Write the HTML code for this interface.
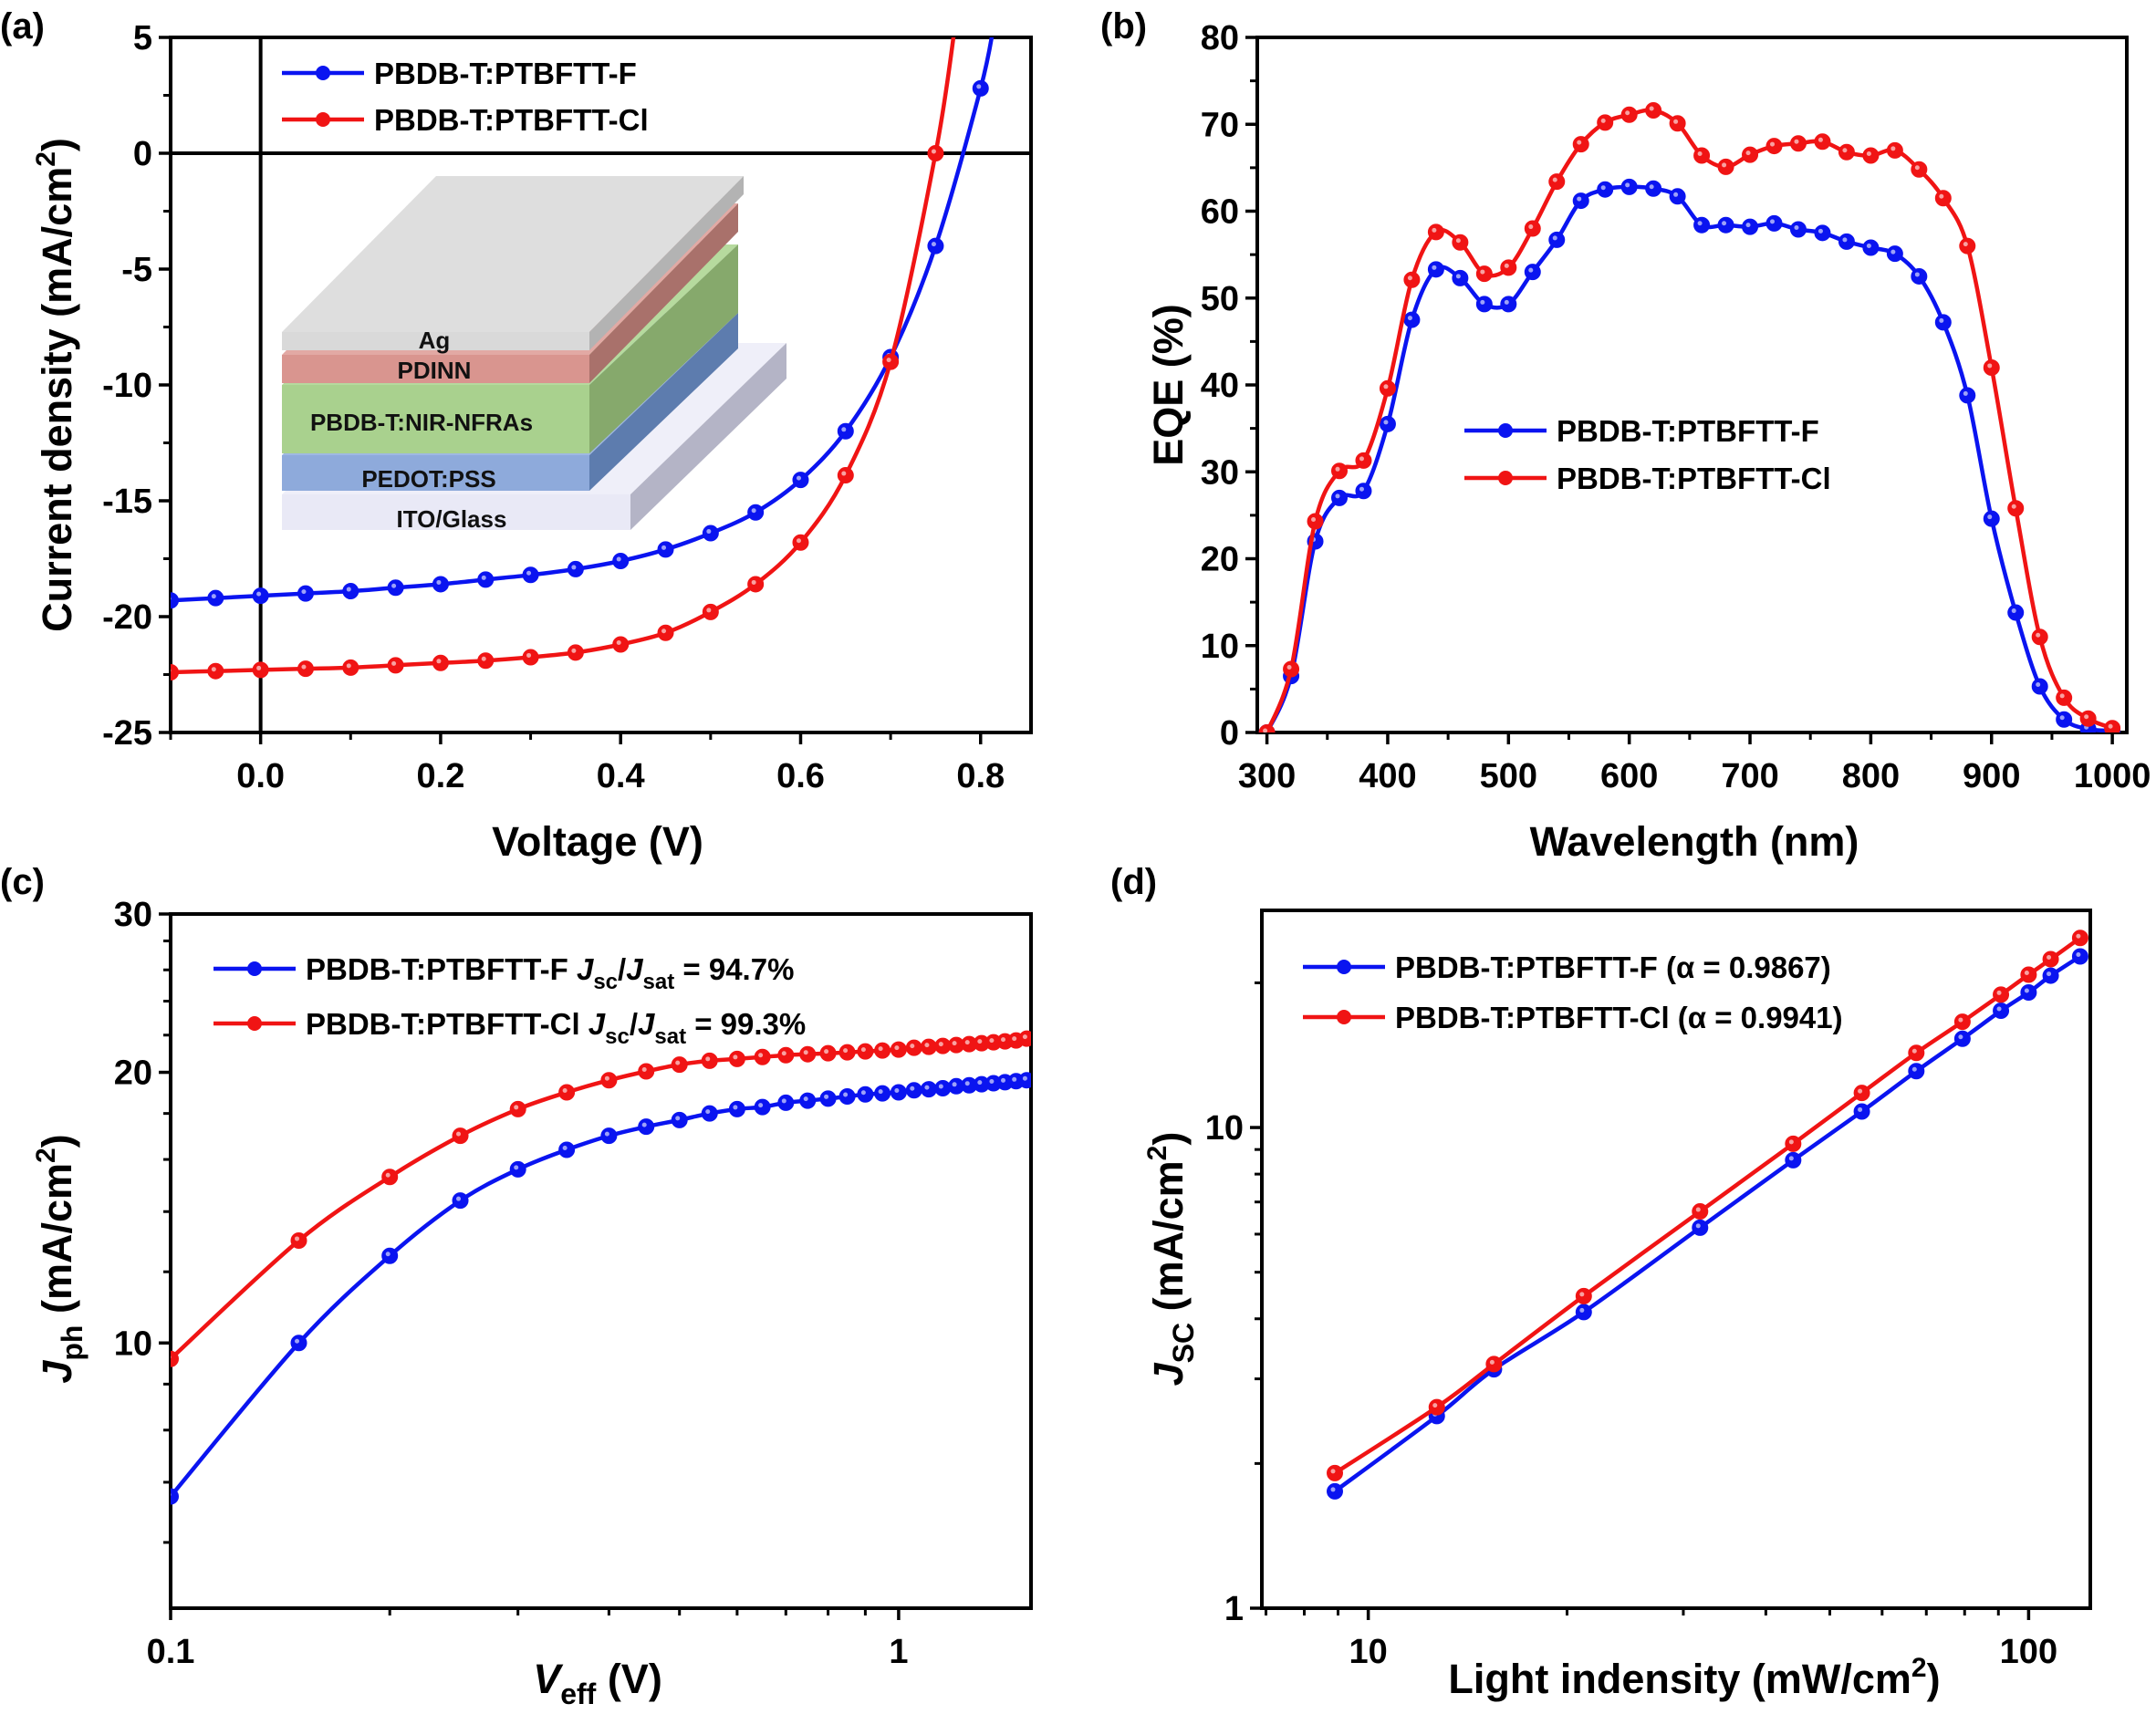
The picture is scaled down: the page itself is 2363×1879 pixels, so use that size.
<!DOCTYPE html>
<html><head><meta charset="utf-8"><style>
html,body{margin:0;padding:0;background:#fff}
svg{display:block;font-family:"Liberation Sans",Arial,sans-serif;font-weight:bold}
</style></head><body>
<svg id="fig" width="2363" height="1879" viewBox="0 0 2363 1879" xmlns="http://www.w3.org/2000/svg">
<g id="inset"></g>
</svg>
<script>
// ---- Panel (a) J-V data ----
const jvVoltage = [-0.1,-0.05,0,0.05,0.1,0.15,0.2,0.25,0.3,0.35,0.4,0.45,0.5,0.55,0.6,0.65,0.7,0.75,0.8,0.815];
const jvF = [-19.3,-19.2,-19.1,-19.0,-18.9,-18.75,-18.6,-18.4,-18.2,-17.95,-17.6,-17.1,-16.4,-15.5,-14.1,-12.0,-8.8,-4.0,2.8,5.6];
const jvVoltageCl = [-0.1,-0.05,0,0.05,0.1,0.15,0.2,0.25,0.3,0.35,0.4,0.45,0.5,0.55,0.6,0.65,0.7,0.75,0.772];
const jvCl = [-22.4,-22.35,-22.3,-22.25,-22.2,-22.1,-22.0,-21.9,-21.75,-21.55,-21.2,-20.7,-19.8,-18.6,-16.8,-13.9,-9.0,0.0,5.6];
// ---- Panel (b) EQE data ----
const eqeWavelength = [300,320,340,360,380,400,420,440,460,480,500,520,540,560,580,600,620,640,660,680,700,720,740,760,780,800,820,840,860,880,900,920,940,960,980,1000];
const eqeF = [0,6.5,22,27,27.8,35.5,47.5,53.3,52.3,49.3,49.3,53,56.7,61.2,62.5,62.8,62.6,61.7,58.4,58.4,58.2,58.6,57.9,57.5,56.5,55.8,55.1,52.5,47.2,38.8,24.6,13.8,5.3,1.5,0.4,0.2];
const eqeCl = [0,7.3,24.3,30.1,31.3,39.6,52.1,57.6,56.4,52.8,53.5,58,63.4,67.7,70.2,71.1,71.6,70.1,66.4,65.1,66.5,67.5,67.8,68,66.8,66.4,67,64.8,61.5,56,42,25.8,11,4,1.6,0.5];
// ---- Panel (c) Jph vs Veff ----
const veff = [0.1,0.15,0.2,0.25,0.3,0.35,0.4,0.45,0.5,0.55,0.6,0.65,0.7,0.75,0.8,0.85,0.9,0.95,1.0,1.05,1.1,1.15,1.2,1.25,1.3,1.35,1.4,1.45,1.5];
const jphF = [6.75,10.0,12.5,14.4,15.6,16.4,17.0,17.4,17.7,18.0,18.2,18.3,18.5,18.6,18.7,18.8,18.9,18.95,19.0,19.1,19.15,19.2,19.3,19.35,19.4,19.45,19.5,19.55,19.6];
const jphCl = [9.6,13.0,15.3,17.0,18.2,19.0,19.6,20.05,20.4,20.6,20.7,20.8,20.9,20.95,21.0,21.05,21.1,21.15,21.2,21.3,21.35,21.4,21.45,21.5,21.55,21.6,21.65,21.7,21.8];
// ---- Panel (d) Jsc vs light intensity ----
const lightIntensity = [8.9,12.7,15.5,21.2,31.8,44,55.9,67.6,79.4,90.8,100,108,119.7];
const jscF = [1.75,2.51,3.14,4.13,6.19,8.55,10.8,13.1,15.3,17.5,19.1,20.7,22.7];
const jscCl = [1.91,2.62,3.22,4.46,6.69,9.25,11.8,14.3,16.6,18.9,20.8,22.4,24.8];

const NS="http://www.w3.org/2000/svg";
const svg=document.getElementById('fig');
function mk(tag,attrs,parent){const e=document.createElementNS(NS,tag);for(const k in attrs)e.setAttribute(k,attrs[k]);(parent||svg).appendChild(e);return e;}
function txt(s,attrs,parent){const t=mk('text',attrs,parent);t.textContent=s;return t;}

function makeAxes(P){
  P.sx=v=>{const a=P.xlog?Math.log10(v):v,lo=P.xlog?Math.log10(P.x0):P.x0,hi=P.xlog?Math.log10(P.x1):P.x1;return P.L+(a-lo)/(hi-lo)*(P.R-P.L);};
  P.sy=v=>{const a=P.ylog?Math.log10(v):v,lo=P.ylog?Math.log10(P.y0):P.y0,hi=P.ylog?Math.log10(P.y1):P.y1;return P.B-(a-lo)/(hi-lo)*(P.B-P.T);};
  return P;
}
function drawFrame(P,g){
  const fr=mk('rect',{x:P.L,y:P.T,width:P.R-P.L,height:P.B-P.T,fill:'none',stroke:'#000','stroke-width':4},g);
  
  
  const xt=mk('g',{},g);
  
  
  P.xMajor.forEach((v,i)=>{const x=P.sx(v);mk('line',{x1:x,x2:x,y1:P.B,y2:P.B+13,stroke:'#000','stroke-width':3.5},xt);
    txt(P.xLabels[i],{x:x,y:P.B+60,'text-anchor':'middle','font-size':38},xt);});
  P.xMinor.forEach(v=>{const x=P.sx(v);mk('line',{x1:x,x2:x,y1:P.B,y2:P.B+8,stroke:'#000','stroke-width':3},xt);});
  const yt=mk('g',{},g);
  
  
  P.yMajor.forEach((v,i)=>{const y=P.sy(v);mk('line',{x1:P.L,x2:P.L-13,y1:y,y2:y,stroke:'#000','stroke-width':3.5},yt);
    txt(P.yLabels[i],{x:P.L-20,y:y+13,'text-anchor':'end','font-size':38},yt);});
  P.yMinor.forEach(v=>{const y=P.sy(v);mk('line',{x1:P.L,x2:P.L-8,y1:y,y2:y,stroke:'#000','stroke-width':3},yt);});
}
function smoothPath(pts){
  let d='M'+pts[0][0].toFixed(1)+','+pts[0][1].toFixed(1);
  for(let i=0;i<pts.length-1;i++){
    const p0=pts[Math.max(i-1,0)],p1=pts[i],p2=pts[i+1],p3=pts[Math.min(i+2,pts.length-1)];
    const c1=[p1[0]+(p2[0]-p0[0])/6,p1[1]+(p2[1]-p0[1])/6],c2=[p2[0]-(p3[0]-p1[0])/6,p2[1]-(p3[1]-p1[1])/6];
    d+=' C'+c1.map(n=>n.toFixed(1))+' '+c2.map(n=>n.toFixed(1))+' '+p2[0].toFixed(1)+','+p2[1].toFixed(1);
  }
  return d;
}
function drawSeries(P,g,xs,ys,color,name,r){
  const clipId='clip-'+P.name;
  const sg=mk('g',{'clip-path':'url(#'+clipId+')'},g);
  
  
  const pts=xs.map((x,i)=>[P.sx(x),P.sy(ys[i])]);
  mk('path',{d:smoothPath(pts),fill:'none',stroke:color,'stroke-width':4.5},sg);
  xs.forEach((x,i)=>{
    const yv=ys[i]; if(yv>P.y1||yv<P.y0) return;
    const c=mk('circle',{cx:P.sx(x),cy:P.sy(yv),r:r||8,fill:color,stroke:color,'stroke-width':2},sg);
    
    
    mk('circle',{cx:P.sx(x)-2,cy:P.sy(yv)-2,r:2.5,fill:'#fff','fill-opacity':0.6},sg);
  });
}
function clip(P){
  let defs=svg.querySelector('defs')||mk('defs',{});
  const cp=mk('clipPath',{id:'clip-'+P.name},defs);
  mk('rect',{x:P.L,y:P.T,width:P.R-P.L,height:P.B-P.T},cp);
}
function legendEntry(g,x,y,color,label,name){
  const e=mk('g',{},g);
  
  
  mk('line',{x1:x,x2:x+90,y1:y,y2:y,stroke:color,'stroke-width':4.5},e);
  mk('circle',{cx:x+45,cy:y,r:8,fill:color},e);
  return txt('',{x:x+101,y:y+12,'font-size':33,fill:'#000'},e);
}
function addSpans(t,parts){
  parts.forEach(p=>{const s=mk('tspan',p.a||{},t);s.textContent=p.s;});
}
function panelLabel(s,x,y){const t=txt(s,{x:x,y:y,'font-size':40});}

// ---------- Panel A ----------
const A=makeAxes({name:'panel-a',L:187,R:1130,T:41,B:803,x0:-0.1,x1:0.856,y0:-25,y1:5,
 xMajor:[0,0.2,0.4,0.6,0.8],xLabels:['0.0','0.2','0.4','0.6','0.8'],xMinor:[-0.1,0.1,0.3,0.5,0.7],
 yMajor:[-25,-20,-15,-10,-5,0,5],yLabels:['-25','-20','-15','-10','-5','0','5'],yMinor:[-22.5,-17.5,-12.5,-7.5,-2.5,2.5]});
const gA=mk('g',{});
clip(A);
svg.appendChild(document.getElementById('inset'));
mk('line',{x1:A.sx(0),x2:A.sx(0),y1:A.T,y2:A.B,stroke:'#000','stroke-width':4},gA);
mk('line',{x1:A.L,x2:A.R,y1:A.sy(0),y2:A.sy(0),stroke:'#000','stroke-width':4},gA);
drawFrame(A,gA);
drawSeries(A,gA,jvVoltage,jvF,'#0a14f0','series-f-jv');
drawSeries(A,gA,jvVoltageCl,jvCl,'#f01414','series-cl-jv');
addSpans(legendEntry(gA,309,80,'#0a14f0','', 'legend-entry-f'),[{s:'PBDB-T:PTBFTT-F'}]);
addSpans(legendEntry(gA,309,131,'#f01414','', 'legend-entry-cl'),[{s:'PBDB-T:PTBFTT-Cl'}]);
{const t=txt('',{transform:'translate(78,422) rotate(-90)','text-anchor':'middle','font-size':45},gA);
 
 addSpans(t,[{s:'Current density (mA/cm'},{s:'2',a:{dy:-18,'font-size':30}},{s:')',a:{dy:18}}]);}
{const t=txt('Voltage (V)',{x:655,y:938,'text-anchor':'middle','font-size':45},gA);}
panelLabel('(a)',0,42);

// device inset
(function(){
 const g=document.getElementById('inset');
 const layers=[
  {n:'ito-glass',x:309,y:542,w:382,h:39,dx:171,dy:166,f:'#e9e9f6',s:'#b4b4c6',t:'#efeff9',label:'ITO/Glass',lx:495,ly:578},
  {n:'pedot-pss',x:309,y:499,w:337,h:39,dx:163,dy:156,f:'#8eaadb',s:'#5d7cae',t:'#9fb8e2',label:'PEDOT:PSS',lx:470,ly:534},
  {n:'active-layer',x:309,y:422,w:337,h:75,dx:163,dy:154,f:'#a9d18e',s:'#86a96c',t:'#b6da9e',label:'PBDB-T:NIR-NFRAs',lx:462,ly:472},
  {n:'pdinn',x:309,y:389,w:337,h:31,dx:163,dy:166,f:'#d9958f',s:'#a9716b',t:'#e2a9a4',label:'PDINN',lx:476,ly:415},
  {n:'ag',x:309,y:364,w:337,h:20,dx:169,dy:171,f:'#d9d9d9',s:'#b3b3b3',t:'#dedede',label:'Ag',lx:476,ly:382}];
 layers.forEach(L=>{
  const lg=mk('g',{},g);
  
  
  mk('polygon',{points:`${L.x},${L.y} ${L.x+L.dx},${L.y-L.dy} ${L.x+L.w+L.dx},${L.y-L.dy} ${L.x+L.w},${L.y}`,fill:L.t},lg);
  mk('polygon',{points:`${L.x+L.w},${L.y} ${L.x+L.w+L.dx},${L.y-L.dy} ${L.x+L.w+L.dx},${L.y-L.dy+L.h} ${L.x+L.w},${L.y+L.h}`,fill:L.s},lg);
  mk('rect',{x:L.x,y:L.y,width:L.w,height:L.h,fill:L.f},lg);
 });
 layers.forEach(L=>{txt(L.label,{x:L.lx,y:L.ly,'text-anchor':'middle','font-size':26,fill:'#111'},g);});
})();

// ---------- Panel B ----------
const B=makeAxes({name:'panel-b',L:1378,R:2331,T:41,B:803,x0:292,x1:1012,y0:0,y1:80,
 xMajor:[300,400,500,600,700,800,900,1000],xLabels:['300','400','500','600','700','800','900','1000'],xMinor:[350,450,550,650,750,850,950],
 yMajor:[0,10,20,30,40,50,60,70,80],yLabels:['0','10','20','30','40','50','60','70','80'],yMinor:[5,15,25,35,45,55,65,75]});
const gB=mk('g',{});
clip(B);drawFrame(B,gB);
drawSeries(B,gB,eqeWavelength,eqeF,'#0a14f0','series-f-eqe');
drawSeries(B,gB,eqeWavelength,eqeCl,'#f01414','series-cl-eqe');
addSpans(legendEntry(gB,1605,472,'#0a14f0','', 'legend-entry-f'),[{s:'PBDB-T:PTBFTT-F'}]);
addSpans(legendEntry(gB,1605,524,'#f01414','', 'legend-entry-cl'),[{s:'PBDB-T:PTBFTT-Cl'}]);
{const t=txt('EQE (%)',{transform:'translate(1296,422) rotate(-90)','text-anchor':'middle','font-size':45},gB);}
{const t=txt('Wavelength (nm)',{x:1857,y:938,'text-anchor':'middle','font-size':45},gB);}
panelLabel('(b)',1206,42);

// ---------- Panel C ----------
const C=makeAxes({name:'panel-c',L:187,R:1130,T:1002,B:1763,x0:0.1,x1:1.52,y0:5.07,y1:30,xlog:true,ylog:true,
 xMajor:[0.1,1],xLabels:['0.1','1'],xMinor:[0.2,0.3,0.4,0.5,0.6,0.7,0.8,0.9],
 yMajor:[10,20,30],yLabels:['10','20','30'],yMinor:[6,7,8,9,12,14,16,18,22,24,26,28]});
const gC=mk('g',{});
clip(C);drawFrame(C,gC);
drawSeries(C,gC,veff,jphF,'#0a14f0','series-f-jph');
drawSeries(C,gC,veff,jphCl,'#f01414','series-cl-jph');
addSpans(legendEntry(gC,234,1062,'#0a14f0','', 'legend-entry-f'),[{s:'PBDB-T:PTBFTT-F '},{s:'J',a:{'font-style':'italic'}},{s:'sc',a:{dy:10,'font-size':24}},{s:'/',a:{dy:-10}},{s:'J',a:{'font-style':'italic'}},{s:'sat',a:{dy:10,'font-size':24}},{s:' = 94.7%',a:{dy:-10}}]);
addSpans(legendEntry(gC,234,1122,'#f01414','', 'legend-entry-cl'),[{s:'PBDB-T:PTBFTT-Cl '},{s:'J',a:{'font-style':'italic'}},{s:'sc',a:{dy:10,'font-size':24}},{s:'/',a:{dy:-10}},{s:'J',a:{'font-style':'italic'}},{s:'sat',a:{dy:10,'font-size':24}},{s:' = 99.3%',a:{dy:-10}}]);
{const t=txt('',{transform:'translate(78,1380) rotate(-90)','text-anchor':'middle','font-size':45},gC);
 
 addSpans(t,[{s:'J',a:{'font-style':'italic'}},{s:'ph',a:{dy:12,'font-size':32}},{s:' (mA/cm',a:{dy:-12}},{s:'2',a:{dy:-18,'font-size':30}},{s:')',a:{dy:18}}]);}
{const t=txt('',{x:655,y:1856,'text-anchor':'middle','font-size':45},gC);
 addSpans(t,[{s:'V',a:{'font-style':'italic'}},{s:'eff',a:{dy:12,'font-size':32}},{s:' (V)',a:{dy:-12}}]);}
panelLabel('(c)',0,980);

// ---------- Panel D ----------
const D=makeAxes({name:'panel-d',L:1383,R:2291,T:998,B:1763,x0:6.9,x1:124,y0:1,y1:28.3,xlog:true,ylog:true,
 xMajor:[10,100],xLabels:['10','100'],xMinor:[7,8,9,20,30,40,50,60,70,80,90],
 yMajor:[1,10],yLabels:['1','10'],yMinor:[2,3,4,5,6,7,8,9,20]});
const gD=mk('g',{});
clip(D);drawFrame(D,gD);
drawSeries(D,gD,lightIntensity,jscF,'#0a14f0','series-f-jsc');
drawSeries(D,gD,lightIntensity,jscCl,'#f01414','series-cl-jsc');
addSpans(legendEntry(gD,1428,1060,'#0a14f0','', 'legend-entry-f'),[{s:'PBDB-T:PTBFTT-F (α = 0.9867)'}]);
addSpans(legendEntry(gD,1428,1115,'#f01414','', 'legend-entry-cl'),[{s:'PBDB-T:PTBFTT-Cl (α = 0.9941)'}]);
{const t=txt('',{transform:'translate(1296,1380) rotate(-90)','text-anchor':'middle','font-size':45},gD);
 
 addSpans(t,[{s:'J',a:{'font-style':'italic'}},{s:'SC',a:{dy:12,'font-size':32}},{s:' (mA/cm',a:{dy:-12}},{s:'2',a:{dy:-18,'font-size':30}},{s:')',a:{dy:18}}]);}
{const t=txt('',{x:1857,y:1856,'text-anchor':'middle','font-size':45},gD);
 addSpans(t,[{s:'Light indensity (mW/cm'},{s:'2',a:{dy:-18,'font-size':30}},{s:')',a:{dy:18}}]);}
panelLabel('(d)',1217,980);
</script>
</body></html>
